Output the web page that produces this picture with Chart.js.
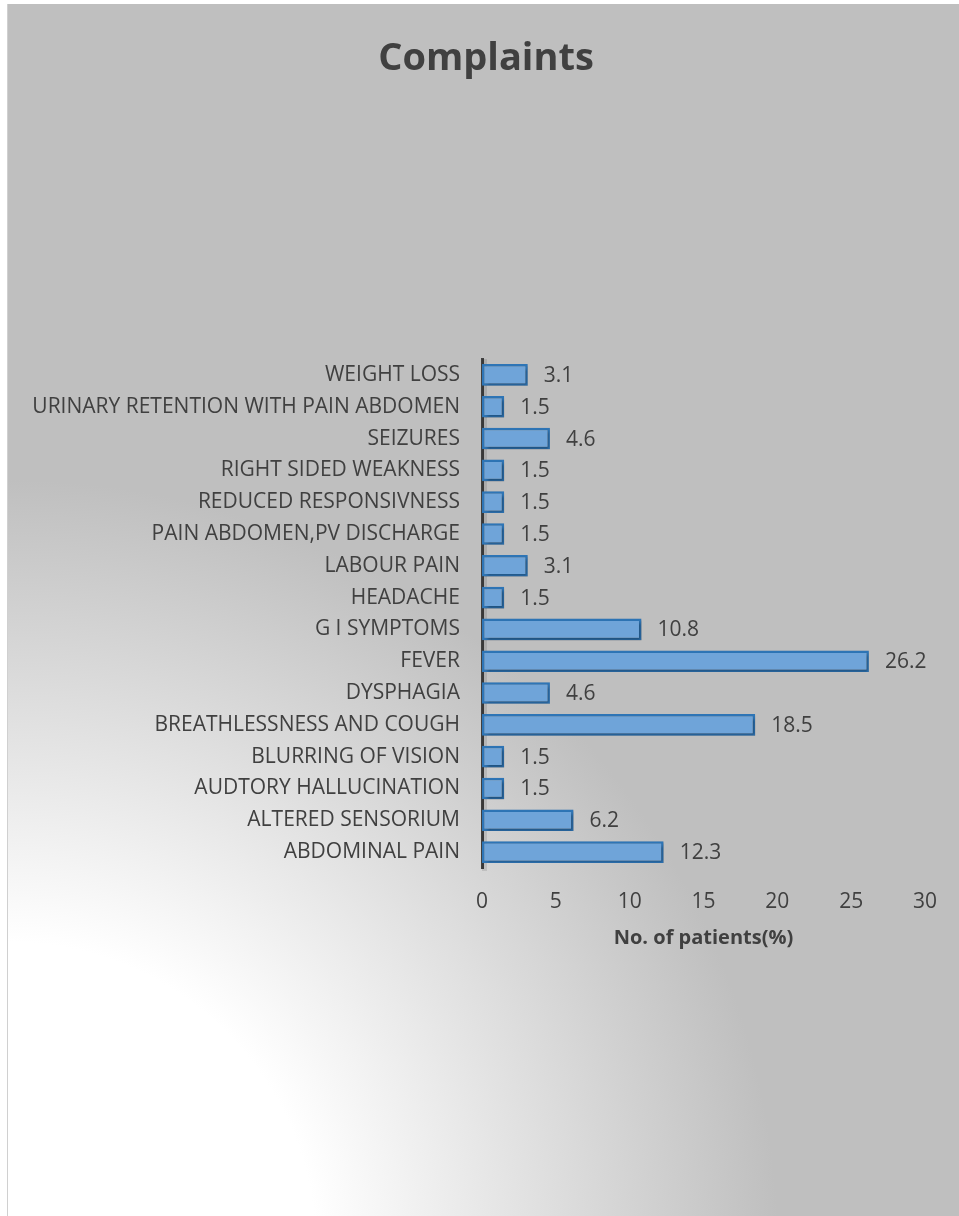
<!DOCTYPE html>
<html lang="en">
<head>
  <meta charset="UTF-8" />
  <title>Complaints</title>
  <script src="https://cdn.jsdelivr.net/npm/chart.js"></script>
  <style>
    html, body { margin: 0; padding: 0; background: #fff; overflow: hidden; }
    body { width: 959px; height: 1216px; position: relative; }
    #edge { position: absolute; left: 7px; top: 4px; width: 1px; height: 1212px; background: #d0d0d0; }
    #box { position: absolute; left: 8px; top: 4px; width: 958px; height: 1212px; }
  </style>
</head>
<body>
  <div id="edge"></div>
  <div id="box"><canvas id="complaintsChart" width="958" height="1212"></canvas></div>

  <script>
    // complaint categories, bottom to top as they appear on the axis
    const complaints = [
      "ABDOMINAL PAIN",
      "ALTERED SENSORIUM",
      "AUDTORY HALLUCINATION",
      "BLURRING OF VISION",
      "BREATHLESSNESS AND COUGH",
      "DYSPHAGIA",
      "FEVER",
      "G I SYMPTOMS",
      "HEADACHE",
      "LABOUR PAIN",
      "PAIN ABDOMEN,PV DISCHARGE",
      "REDUCED RESPONSIVNESS",
      "RIGHT SIDED WEAKNESS",
      "SEIZURES",
      "URINARY RETENTION WITH PAIN ABDOMEN",
      "WEIGHT LOSS"
    ];
    const patientPercent = [12.3, 6.2, 1.5, 1.5, 18.5, 4.6, 26.2, 10.8, 1.5, 3.1, 1.5, 1.5, 1.5, 4.6, 1.5, 3.1];
    const xTicks = [0, 5, 10, 15, 20, 25, 30];
    const chartTitle = "Complaints";
    const axisTitle = "No. of patients(%)";

    const textColor = "#404040";
    const fontFamily = "'Open Sans', sans-serif";

    // grey backdrop fading to white towards the lower left corner
    const backdrop = {
      id: "backdrop",
      beforeDraw(chart) {
        const c = chart.ctx;
        const g = c.createRadialGradient(0, 1246, 0, 0, 1246, 770);
        g.addColorStop(0, "#ffffff");
        g.addColorStop(0.4, "#ffffff");
        g.addColorStop(1, "#bfbfbf");
        c.save();
        c.fillStyle = g;
        c.fillRect(0, 0, chart.width, chart.height);
        c.restore();
      }
    };

    // heading centred on the whole chart box, not just the plot
    const heading = {
      id: "heading",
      afterDraw(chart) {
        const c = chart.ctx;
        c.save();
        c.font = "bold 38px " + fontFamily;
        c.fillStyle = textColor;
        c.textAlign = "center";
        c.textBaseline = "middle";
        c.fillText(chartTitle, 478, 55);
        c.restore();
      }
    };

    // soft shadow under the bars and beside the value axis line
    const barShadow = {
      id: "barShadow",
      beforeDatasetsDraw(chart) {
        const a = chart.chartArea;
        chart.ctx.save();
        chart.ctx.fillStyle = "rgba(0,0,0,0.10)";
        chart.ctx.fillRect(a.left, a.top, 5, a.bottom - a.top + 3);
        chart.ctx.restore();
      },
      beforeDatasetDraw(chart) {
        const c = chart.ctx;
        c.save();
        c.shadowColor = "rgba(0,0,0,0.35)";
        c.shadowBlur = 3;
        c.shadowOffsetX = 2;
        c.shadowOffsetY = 2;
      },
      afterDatasetDraw(chart) {
        chart.ctx.restore();
      }
    };

    // value printed just past the end of each bar
    const barValues = {
      id: "barValues",
      afterDatasetsDraw(chart) {
        const c = chart.ctx;
        const meta = chart.getDatasetMeta(0);
        c.save();
        c.font = "21px " + fontFamily;
        c.fillStyle = textColor;
        c.textAlign = "left";
        c.textBaseline = "middle";
        meta.data.forEach((bar, i) => {
          c.fillText(patientPercent[i].toFixed(1), bar.x + 16, bar.y + 1);
        });
        c.restore();
      }
    };

    const ctx = document.getElementById("complaintsChart").getContext("2d");

    new Chart(ctx, {
      type: "bar",
      data: {
        labels: complaints,
        datasets: [{
          data: patientPercent,
          backgroundColor: "#6fa4d9",
          borderColor: "#2e75b6",
          borderWidth: 2.5,
          borderSkipped: false,
          categoryPercentage: 1,
          barPercentage: 0.68
        }]
      },
      options: {
        indexAxis: "y",
        responsive: false,
        animation: false,
        layout: { padding: { left: 0, right: 41, top: 355, bottom: 266 } },
        plugins: {
          legend: { display: false },
          tooltip: { enabled: false },
          title: { display: false }
        },
        scales: {
          x: {
            min: 0,
            max: 30,
            afterBuildTicks(scale) {
              scale.ticks = xTicks.map(v => ({ value: v }));
            },
            afterFit(scale) { scale.height = 82; },
            grid: { display: false, drawTicks: false },
            border: { display: false },
            ticks: {
              color: textColor,
              padding: 21,
              font: { family: fontFamily, size: 21 }
            },
            title: {
              display: true,
              text: axisTitle,
              color: textColor,
              padding: { top: 4, bottom: 0 },
              font: { family: fontFamily, size: 20, weight: "bold" }
            }
          },
          y: {
            reverse: true,
            afterFit(scale) { scale.width = 474; },
            grid: { display: false, drawTicks: false },
            border: { display: true, color: "#404040", width: 3 },
            ticks: {
              color: textColor,
              padding: 22,
              font: { family: fontFamily, size: 21 }
            }
          }
        }
      },
      plugins: [backdrop, barShadow, barValues, heading]
    });
  </script>
</body>
</html>
